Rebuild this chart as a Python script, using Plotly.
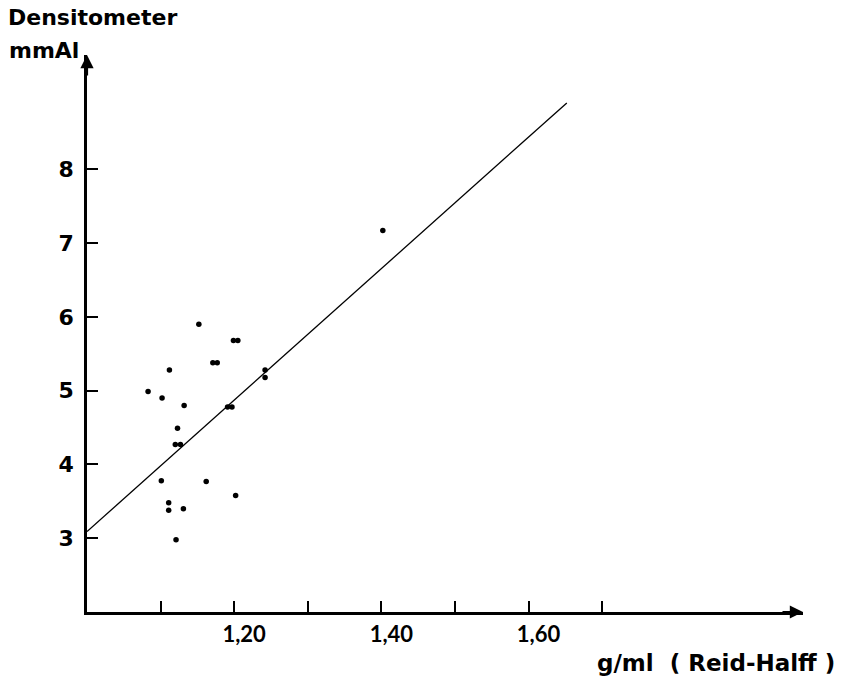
import plotly.graph_objects as go

# data
density_gml = [1.152, 1.199, 1.205, 1.171, 1.177, 1.112, 1.242, 1.242, 1.083, 1.102, 1.132,
               1.191, 1.197, 1.123, 1.120, 1.127, 1.101, 1.162, 1.202, 1.111, 1.111, 1.131,
               1.121, 1.402]
densitometer_mmal = [5.90, 5.68, 5.68, 5.38, 5.38, 5.28, 5.28, 5.18, 4.99, 4.90, 4.80,
                     4.78, 4.78, 4.49, 4.27, 4.27, 3.78, 3.77, 3.58, 3.48, 3.38, 3.40,
                     2.98, 7.17]
fit_x = [1.0, 1.652]
fit_y = [3.09, 8.90]

x_tickvals = [1.1, 1.2, 1.3, 1.4, 1.5, 1.6, 1.7]
x_ticktext = ["", "1,20", "", "1,40", "", "1,60", ""]
y_tickvals = [3, 4, 5, 6, 7, 8]
y_ticktext = ["3", "4", "5", "6", "7", "8"]

x_range = [1.0, 1.973]
y_range = [2.0, 9.55]

TITLE_FONT = "DejaVu Sans"
TICK_FONT = "Lato"

fig = go.Figure()
fig.add_trace(go.Scatter(x=fit_x, y=fit_y, mode="lines",
                         line=dict(color="black", width=1.3), hoverinfo="skip"))
fig.add_trace(go.Scatter(x=density_gml, y=densitometer_mmal, mode="markers",
                         marker=dict(color="black", size=5.5)))

fig.update_layout(
    width=844, height=681,
    margin=dict(l=87, r=41, t=55, b=69),
    paper_bgcolor="white", plot_bgcolor="white",
    showlegend=False,
    font=dict(family=TITLE_FONT, color="black", size=20),
    xaxis=dict(range=x_range, showgrid=False, zeroline=False,
               showline=True, linecolor="black", linewidth=2.5,
               tickmode="array", tickvals=x_tickvals, ticktext=x_ticktext,
               ticks="inside", ticklen=11, tickwidth=1.5, tickcolor="black",
               tickfont=dict(family=TICK_FONT, size=22, weight="bold"),
               ticklabelstandoff=1, ticklabelshift=10),
    yaxis=dict(range=y_range, showgrid=False, zeroline=False,
               showline=True, linecolor="black", linewidth=2.5,
               tickmode="array", tickvals=y_tickvals, ticktext=y_ticktext,
               ticks="inside", ticklen=11, tickwidth=2, tickcolor="black",
               tickfont=dict(family=TITLE_FONT, size=22, weight="bold"),
               ticklabelstandoff=6),
)

# axis arrowheads
fig.add_annotation(x=x_range[1], y=y_range[0], xref="x", yref="y", text="",
                   showarrow=True, ax=-22, ay=0, arrowhead=2, arrowsize=1.2,
                   arrowwidth=2.2, arrowcolor="black")
fig.add_annotation(x=x_range[0], y=y_range[1], xref="x", yref="y", text="",
                   showarrow=True, ax=0, ay=22, arrowhead=2, arrowsize=1.2,
                   arrowwidth=2.2, arrowcolor="black")

# axis titles
fig.add_annotation(text="Densitometer", xref="paper", yref="paper",
                   x=(6 - 87) / 716, y=(612 - 18) / 557, xanchor="left", yanchor="middle",
                   showarrow=False, font=dict(family=TITLE_FONT, size=22, weight="bold"))
fig.add_annotation(text="mmAl", xref="paper", yref="paper",
                   x=(7 - 87) / 716, y=(612 - 50) / 557, xanchor="left", yanchor="middle",
                   showarrow=False, font=dict(family=TITLE_FONT, size=22, weight="bold"))
fig.add_annotation(text="g/ml\u00a0\u00a0(\u00a0Reid\u2011Halff\u00a0)", xref="paper", yref="paper",
                   x=(837 - 87) / 716, y=(612 - 663) / 557, xanchor="right", yanchor="middle",
                   showarrow=False, font=dict(family=TITLE_FONT, size=23, weight="bold"))

fig.write_html("out.html", config={"displayModeBar": False},
               post_script="document.body.style.margin='0';")
